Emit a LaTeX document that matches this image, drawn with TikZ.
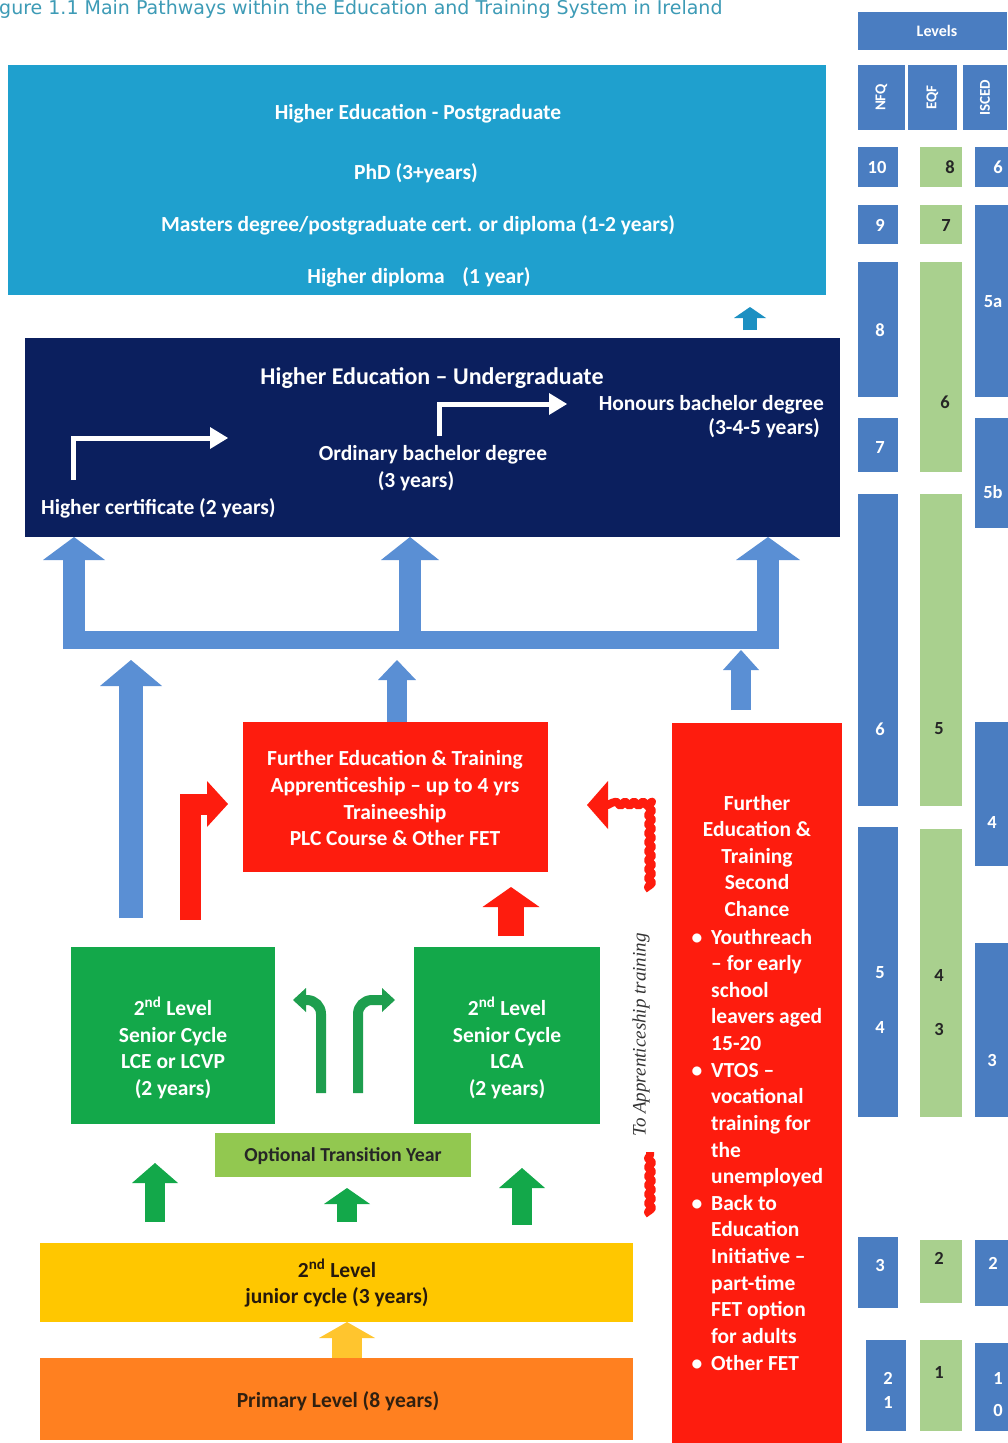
\documentclass[tikz,border=0pt]{standalone}
\usepackage{fontspec}
\setmainfont{Carlito}
\newfontfamily\titlefont{DejaVu Sans}
\newfontfamily\serifit{Liberation Serif}
\usetikzlibrary{arrows.meta,decorations.pathmorphing,calc}
\definecolor{pgc}{HTML}{1FA0CE}
\definecolor{ugc}{HTML}{0B1F5E}
\definecolor{redc}{HTML}{FE1C0E}
\definecolor{grc}{HTML}{13A84A}
\definecolor{gac}{HTML}{1E9E4E}
\definecolor{lgc}{HTML}{92C850}
\definecolor{yelc}{HTML}{FFC700}
\definecolor{yac}{HTML}{FFC52E}
\definecolor{orc}{HTML}{FF8020}
\definecolor{arrblue}{HTML}{5A8FD4}
\definecolor{smallblue}{HTML}{1C90C2}
\definecolor{lvb}{HTML}{4A7DC1}
\definecolor{lvgr}{HTML}{A9D08E}
\definecolor{titc}{HTML}{3D9BB6}
\begin{document}
\begin{tikzpicture}[x=1pt,y=-1pt,
  box/.style={rectangle,draw=none,inner sep=0pt,outer sep=0pt},
  txt/.style={inner sep=0pt,anchor=base,font=\fontsize{21.5}{24}\selectfont\bfseries,text=white},
  lvl/.style={inner sep=0pt,anchor=center,font=\fontsize{18.5}{20}\selectfont\bfseries,text=white},
  lvd/.style={lvl,text=black!85},
  lvs/.style={inner sep=0pt,anchor=center,font=\fontsize{15}{17}\selectfont\bfseries,text=white},
  blk/.style n args={3}{line width=#1,-{Triangle[length=#2,width=#3,line width=0pt]}},
  wavy/.style={line width=8pt,line join=round,decorate,decoration={snake,amplitude=2pt,segment length=9pt}},
]
\useasboundingbox (0,0) rectangle (1007,1443);
\fill[white] (0,0) rectangle (1007,1443);

% title
\node[inner sep=0pt,anchor=base west,font=\titlefont\fontsize{19}{22}\selectfont,text=titc] (title) at (-1,14.5) {gure 1.1 Main Pathways within the Education and Training System in Ireland};

% boxes
\node[box,fill=pgc,minimum width=818pt,minimum height=230pt] (pg) at (417,180) {};
\node[box,fill=ugc,minimum width=815pt,minimum height=199pt] (ug) at (432.5,437.5) {};
\node[box,fill=redc,minimum width=305pt,minimum height=150pt] (fet) at (395.5,797) {};
\node[box,fill=redc,minimum width=170pt,minimum height=722pt] (sc) at (757,1084) {};
\node[box,fill=grc,minimum width=204pt,minimum height=177pt] (gl) at (173,1035.5) {};
\node[box,fill=grc,minimum width=186pt,minimum height=177pt] (gr) at (507,1035.5) {};
\node[box,fill=lgc,minimum width=256pt,minimum height=44pt] (ty) at (343,1154.5) {};
\node[box,fill=yelc,minimum width=593pt,minimum height=79pt] (jc) at (336.5,1282.5) {};
\node[box,fill=orc,minimum width=593pt,minimum height=82pt] (pr) at (336.5,1399) {};

% postgraduate texts
\node[txt] (pg1) at (418,119) {Higher Education - Postgraduate};
\node[txt] (pg2) at (416,179) {PhD (3+years)};
\node[txt] (pg3) at (418,231) {Masters degree/postgraduate cert. or diploma (1-2 years)};
\node[txt] (pg4) at (419,283) {Higher diploma\hspace{0.6em} (1 year)};

% undergraduate texts
\node[txt,font=\fontsize{24}{28}\selectfont\bfseries] (ug1) at (432,384) {Higher Education – Undergraduate};
\node[txt,anchor=base east] (ug2) at (824,410) {Honours bachelor degree};
\node[txt,anchor=base east] (ug3) at (820,434) {(3-4-5 years)};
\node[txt] (ug4) at (433,460) {Ordinary bachelor degree};
\node[txt] (ug5) at (416,487) {(3 years)};
\node[txt,anchor=base west] (ug6) at (41,514) {Higher certificate (2 years)};

% white elbow arrows
\coordinate (w1a) at (73,480); \coordinate (w1b) at (228,438);
\draw[white,line width=5pt,-{Triangle[length=18pt,width=22pt,line width=0pt]}] (w1a) |- (w1b);
\coordinate (w2a) at (439,436); \coordinate (w2b) at (567,404);
\draw[white,line width=5pt,-{Triangle[length=18pt,width=22pt,line width=0pt]}] (w2a) |- (w2b);

% small arrow to postgraduate
\coordinate (sa0) at (750,330); \coordinate (sa1) at (750,307);
\draw[smallblue,blk={14pt}{11pt}{32pt}] (sa0) -- (sa1);

% blue bracket
\coordinate (bkL) at (63,640); \coordinate (bkR) at (779,640);
\draw[arrblue,line width=18pt] (bkL) -- (bkR);
\coordinate (bk1) at (74,649); \coordinate (bk2) at (410,649); \coordinate (bk3) at (768,649);
\draw[arrblue,blk={22pt}{23pt}{62pt}] (bk1) -- (bk1 |- ug.south);
\draw[arrblue,blk={22pt}{23pt}{58pt}] (bk2) -- (bk2 |- ug.south);
\draw[arrblue,blk={22pt}{23pt}{64pt}] (bk3) -- (bk3 |- ug.south);

% lower blue arrows
\coordinate (lb0) at (131,918); \coordinate (lb1) at (131,660);
\draw[arrblue,blk={24pt}{26pt}{62pt}] (lb0) -- (lb1);
\draw[arrblue,blk={20pt}{20pt}{38pt}] ($(fet.north)+(1.5,0)$) -- ($(fet.north)+(1.5,-62)$);
\coordinate (rb0) at (741,710); \coordinate (rb1) at (741,650);
\draw[arrblue,blk={20pt}{20pt}{36pt}] (rb0) -- (rb1);

% FET texts
\node[txt] (f1) at (395,765) {Further Education \& Training};
\node[txt] (f2) at (395,792) {Apprenticeship – up to 4 yrs};
\node[txt] (f3) at (395,819) {Traineeship};
\node[txt] (f4) at (395,845) {PLC Course \& Other FET};

% red arrows
\coordinate (ra0) at (190,920); \coordinate (ra1) at (228,804);
\draw[redc,blk={21pt}{21pt}{46pt}] (ra0) |- (ra1);
\coordinate (rs0) at (511,936); \coordinate (rs1) at (511,887);
\draw[redc,blk={26pt}{20pt}{57pt}] (rs0) -- (rs1);

% wavy apprenticeship arrow
\coordinate (wv0) at (650,1215); \coordinate (wv1) at (650,1152);
\draw[redc,wavy] (wv0) -- (wv1);
\coordinate (wv2) at (650,890); \coordinate (wv3) at (604,805);
\draw[redc,wavy] (wv2) |- (wv3);
\coordinate (wvt) at (587,805);
\fill[redc] (wvt) -- ++(21,-24) -- ++(0,48) -- cycle;
\node[inner sep=0pt,rotate=90,font=\serifit\itshape\fontsize{19}{20}\selectfont,text=black!80] (appr) at (641,1035) {To Apprenticeship training};

% green boxes texts
\node[txt] (gl1) at (173,1015) {2\textsuperscript{nd} Level};
\node[txt] (gl2) at (173,1042) {Senior Cycle};
\node[txt] (gl3) at (173,1068) {LCE or LCVP};
\node[txt] (gl4) at (173,1095) {(2 years)};
\node[txt] (gr1) at (507,1015) {2\textsuperscript{nd} Level};
\node[txt] (gr2) at (507,1042) {Senior Cycle};
\node[txt] (gr3) at (507,1068) {LCA};
\node[txt] (gr4) at (507,1095) {(2 years)};

% green curved arrows
\coordinate (ga0) at (321,1093); \coordinate (ga1) at (293,1000);
\draw[gac,line width=10pt,rounded corners=14pt,-{Triangle[length=13pt,width=24pt,line width=0pt]}] (ga0) |- (ga1);
\coordinate (gb0) at (358,1093); \coordinate (gb1) at (395,1000);
\draw[gac,line width=10pt,rounded corners=14pt,-{Triangle[length=13pt,width=24pt,line width=0pt]}] (gb0) |- (gb1);

% transition year
\node[txt,font=\fontsize{19.8}{22}\selectfont\bfseries,text=black!85] (tyt) at (343,1161) {Optional Transition Year};

% green up arrows
\coordinate (gu1a) at (155,1222); \coordinate (gu1b) at (155,1163);
\draw[grc,blk={20pt}{20pt}{46pt}] (gu1a) -- (gu1b);
\coordinate (gu2a) at (347,1222); \coordinate (gu2b) at (347,1188);
\draw[grc,blk={20pt}{16pt}{46pt}] (gu2a) -- (gu2b);
\coordinate (gu3a) at (522,1225); \coordinate (gu3b) at (522,1168);
\draw[grc,blk={20pt}{20pt}{46pt}] (gu3a) -- (gu3b);

% junior cycle and primary
\node[txt,text=black!80!brown] (jc1) at (337,1277) {2\textsuperscript{nd} Level};
\node[txt,text=black!80!brown] (jc2) at (337,1303) {junior cycle (3 years)};
\draw[yac,blk={30pt}{16pt}{56pt}] ($(pr.north)+(10.5,0)$) -- ($(jc.south)+(10.5,0)$);
\node[txt,text=black!75!brown] (pr1) at (338,1407) {Primary Level (8 years)};

% second chance texts
\foreach \t [count=\i] in {Further,Education \&,Training,Second,Chance}
  \node[txt] (sch\i) at (757,{810+(\i-1)*26.5}) {\t};
\foreach \t [count=\i] in {Youthreach,– for early,school,leavers aged,15-20,VTOS –,vocational,training for,the,unemployed,Back to,Education,Initiative –,part-time,FET option,for adults,Other FET}
  \node[txt,anchor=base west] (scl\i) at (711,{944+(\i-1)*26.625}) {\t};
\foreach \i in {1,6,11,17}
  \node[txt,anchor=base] (scb\i) at (697,{944+(\i-1)*26.625}) {\textbullet};

% levels table
\fill[lvb] (858,12) rectangle (1007,50);
\node[lvs,font=\fontsize{16}{18}\selectfont\bfseries] (lvhd) at (937,31) {Levels};
\fill[lvb] (858,65) rectangle (905,130);
\fill[lvb] (908,65) rectangle (957,130);
\fill[lvb] (963,65) rectangle (1007,130);
\node[lvs,rotate=90] (hnfq) at (881.5,97.5) {NFQ};
\node[lvs,rotate=90] (heqf) at (932.5,97.5) {EQF};
\node[lvs,rotate=90] (hisc) at (985,97.5) {ISCED};
\foreach \a/\b in {147/187,205/244,262/397,418/472,494/806,827/1117,1237/1308}
  \fill[lvb] (858,\a) rectangle (898,\b);
\fill[lvb] (866,1340) rectangle (906,1431);
\foreach \a/\b in {147/187,205/244,262/472,494/806,829/1117,1240/1303,1340/1431}
  \fill[lvgr] (920,\a) rectangle (962,\b);
\foreach \a/\b in {147/187,205/397,418/528,722/866,943/1117,1240/1306,1343/1431}
  \fill[lvb] (975,\a) rectangle (1012,\b);
\foreach \t/\xx/\yy [count=\i] in {10/877/167,9/880/225,8/880/330,7/880/447,6/880/729,5/880/973,4/880/1027,3/880/1265,2/888/1378,1/888/1402}
  \node[lvl] (nfq\i) at (\xx,\yy) {\t};
\foreach \t/\xx/\yy [count=\i] in {8/950/167,7/946/225,6/945/402,5/939/729,4/939/975,3/939/1029,2/939/1258,1/939/1372}
  \node[lvd] (eqf\i) at (\xx,\yy) {\t};
\foreach \t/\xx/\yy [count=\i] in {6/998/167,5a/993/302,5b/993/492,4/992/822,3/992/1060,2/993/1263,1/998/1378,0/998/1410}
  \node[lvl] (isc\i) at (\xx,\yy) {\t};
\end{tikzpicture}
\end{document}
